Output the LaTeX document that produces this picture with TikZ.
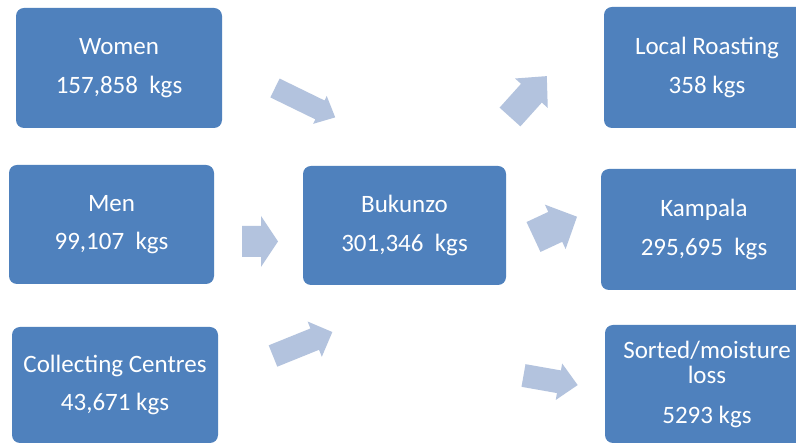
\documentclass[tikz,border=0pt]{standalone}
\usepackage{fontspec}
\setmainfont{Carlito}
\definecolor{boxblue}{HTML}{4F81BD}
\definecolor{arrowblue}{HTML}{B3C3DE}
\begin{document}
\begin{tikzpicture}[x=1pt,y=1pt,
  stage/.style={fill=boxblue, rounded corners=8pt, text=white, align=center,
    font=\fontsize{25}{25.5}\selectfont, inner sep=0pt},
  % block arrow along +x: length / shaft width / head width / head length
  pics/flowarrow/.style args={#1/#2/#3/#4}{code={
    \fill[arrowblue] (0,-#2/2) -- (#1-#4,-#2/2) -- (#1-#4,-#3/2) -- (#1,0)
      -- (#1-#4,#3/2) -- (#1-#4,#2/2) -- (0,#2/2) -- cycle;}}
]
\fill[white] (0,0) rectangle (796,444);
\useasboundingbox (0,0) rectangle (796,444);

% sources
\node[stage, minimum width=206, minimum height=120] (women) at (119,376)
  {Women\\[13pt]157,858~ kgs};
\node[stage, minimum width=205, minimum height=119] (men) at (111.5,219.5)
  {Men\\[13pt]99,107~ kgs};
\node[stage, minimum width=206, minimum height=116] (collect) at (115,59)
  {Collecting Centres\\[13pt]43,671 kgs};

% hub
\node[stage, minimum width=203, minimum height=119] (bukunzo) at (404.5,218.5)
  {Bukunzo\\[13pt]301,346~ kgs};

% destinations
\node[stage, minimum width=206, minimum height=121] (local) at (707,376.5)
  {Local Roasting\\[13pt]358 kgs};
\node[stage, minimum width=206, minimum height=121] (kampala) at (704,214.5)
  {Kampala\\[13pt]295,695~ kgs};
\node[stage, minimum width=204, minimum height=118] (sorted) at (707,60)
  {Sorted/moisture\\loss\\[14pt]5293 kgs};

% flow arrows
\pic[rotate=-26] (a1) at (275,356) {flowarrow=67/21/31/17};
\pic (a2) at (242,202.5) {flowarrow=36/31/51/17};
\pic[rotate=22] (a3) at (273,88) {flowarrow=64/23/38/19};
\pic[rotate=48] (a4) at (510,327) {flowarrow=55/28/44/23};
\pic[rotate=25] (a5) at (533.5,207) {flowarrow=48/33/49/24};
\pic[rotate=-10] (a6) at (523.5,68.5) {flowarrow=55/23/37/19};
\end{tikzpicture}
\end{document}
